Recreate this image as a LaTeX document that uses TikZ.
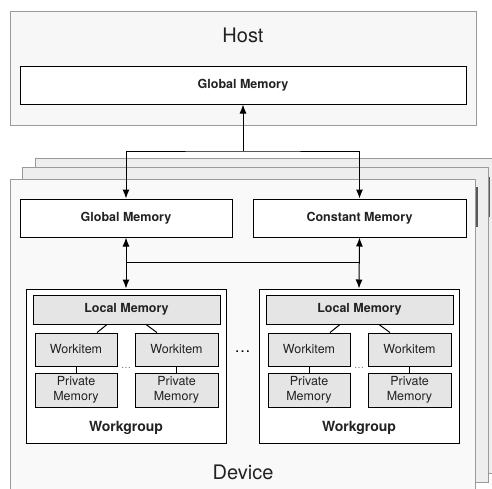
\documentclass[tikz,border=0pt]{standalone}
\usepackage{fontspec}
\setmainfont{TeX Gyre Heros}
\usetikzlibrary{arrows.meta}

\definecolor{framegray}{HTML}{9A9A9A}
\definecolor{hostfill}{HTML}{F7F7F7}
\definecolor{devfront}{HTML}{F9F9F9}
\definecolor{devback}{HTML}{EEEEEE}
\definecolor{unitgray}{HTML}{E5E5E5}
\definecolor{inkgray}{HTML}{222222}

\tikzset{
  frame/.style={draw=framegray, line width=1pt},
  mem/.style={draw=black, line width=1pt, fill=white, inner sep=0pt,
    text=inkgray, font=\bfseries\fontsize{12.5}{14}\selectfont},
  unit/.style={draw=black, line width=0.9pt, fill=unitgray, inner sep=0pt,
    align=center, text=inkgray, font=\fontsize{12.5}{15.5}\selectfont},
  title/.style={text=inkgray, font=\fontsize{20}{24}\selectfont},
  link/.style={line width=1pt},
  dlink/.style={link, {Latex[length=9pt,width=7pt]}-{Latex[length=9pt,width=7pt]}},
  uplink/.style={link, -{Latex[length=9pt,width=7pt]}},
  brk/.style={draw=black!65, line width=1.3pt},
}

\begin{document}
\begin{tikzpicture}[x=1pt,y=-1pt]
        \useasboundingbox (0,0) rectangle (492,488);

        %Host
        \draw [frame, fill=hostfill] (10,11) rectangle (476,125);
        \node [title] (hosttitle) at (243,35) {Host};
        \node [mem, minimum width=446, minimum height=38] (hgm) at (243,85) {Global Memory};

        %Device stack
        \draw [frame, fill=devback] (35,158) rectangle (497,473);
        \draw [brk] (486,178) -| (489,216) -- (486,216);
        \draw [frame, fill=devback] (22,167) rectangle (488,482);
        \draw [brk] (474,188) -| (477,226) -- (474,226);
        \draw [frame, fill=devfront] (10,179) rectangle (475,495);
        \node [title] (devtitle) at (243,472) {Device};

        %Device memories
        \node [mem, minimum width=212, minimum height=38] (gm) at (126,218) {Global Memory};
        \node [mem, minimum width=213, minimum height=38] (cm) at (359.5,218) {Constant Memory};

        %Workgroups
        \foreach \i/\dx in {1/0, 2/233} {
          \begin{scope}[xshift=\dx]
            \node [mem, minimum width=200, minimum height=154] (wg\i) at (126,366) {};
            \node [mem, fill=unitgray, minimum width=187, minimum height=29] (lm\i) at (126.5,309.5) {Local Memory};
            \node [unit, minimum width=82, minimum height=33] (wia\i) at (76,349.5) {Workitem};
            \node [unit, minimum width=83, minimum height=33] (wib\i) at (176.5,349.5) {Workitem};
            \node [unit, minimum width=82, minimum height=34] (pma\i) at (76,390) {Private\\Memory};
            \node [unit, minimum width=83, minimum height=34] (pmb\i) at (176.5,390) {Private\\Memory};
            \node [text=black!55, font=\fontsize{10}{10}\selectfont] (dots\i) at (126,368) {\ldots};
            \node [text=inkgray, font=\bfseries\fontsize{14}{16}\selectfont] (wgl\i) at (126,428) {Workgroup};
            \draw [link] ([xshift=-19.5]lm\i.south) -- ([xshift=21]wia\i.north);
            \draw [link] ([xshift=19.5]lm\i.south) -- ([xshift=-19.5]wib\i.north);
            \draw [link] (wia\i) -- (pma\i);
            \draw [link] (wib\i) -- (pmb\i);
          \end{scope}
        }
        \node [font=\fontsize{16}{16}\selectfont] (wgdots) at (242.5,352) {\ldots};

        %Connections
        \coordinate (hj) at (243,151);
        \coordinate (ljl) at (126,262);
        \coordinate (ljr) at (359.5,262);
        \draw [uplink] (hj) -- (hgm.south);
        \draw [dlink] (gm.north) |- (hj) -| (cm.north);
        \draw [dlink] (gm.south) -- (wg1.north);
        \draw [dlink] (cm.south) -- (wg2.north);
        \draw [link] (ljl) -- (ljr);

\end{tikzpicture}
\end{document}
